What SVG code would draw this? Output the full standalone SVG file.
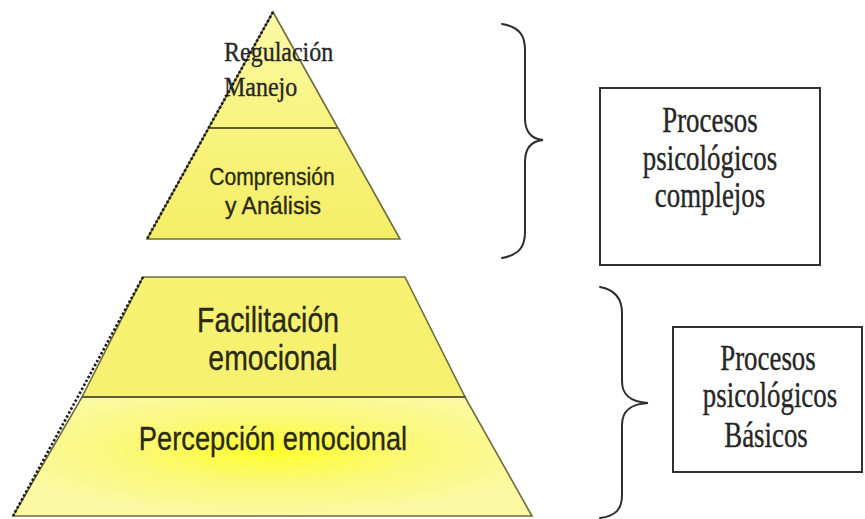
<svg xmlns="http://www.w3.org/2000/svg" width="865" height="519" viewBox="0 0 865 519">
  <defs>
    <linearGradient id="gTop" x1="0" y1="0" x2="0" y2="1">
      <stop offset="0" stop-color="#fbfaa8"/>
      <stop offset="0.45" stop-color="#f8f482"/>
      <stop offset="1" stop-color="#f4ee66"/>
    </linearGradient>
    <radialGradient id="gBase" cx="0.5" cy="0.45" r="0.55">
      <stop offset="0" stop-color="#ffff2a"/>
      <stop offset="0.5" stop-color="#fbf878"/>
      <stop offset="1" stop-color="#fbf9a4"/>
    </radialGradient>
    <style>
      .band { stroke: #6e6c3c; stroke-width: 1.6; stroke-linejoin: miter; }
      .div { stroke: #5f5d34; stroke-width: 2; fill: none; }
      .dash { stroke: #1a1a1a; stroke-width: 2.6; stroke-dasharray: 2.5 2; fill: none; }
      .sans { font-family: "Liberation Sans", Arial, sans-serif; fill: #2a2a12; stroke: #2a2a12; stroke-width: 0.3; }
      .serif { font-family: "Liberation Serif", "Times New Roman", serif; fill: #262626; stroke: #262626; stroke-width: 0.3; }
      .brace { stroke: #2e2e2e; stroke-width: 2; fill: none; stroke-linecap: round; }
      .box { fill: #ffffff; stroke: #303030; stroke-width: 2; }
    </style>
  </defs>

  <rect width="865" height="519" fill="#ffffff"/>

  <!-- upper pyramid: triangle -->
  <g id="top-pyramid">
    <polygon class="band" points="273,12 400,239 147,239" fill="url(#gTop)"/>
    <line class="div" x1="210" y1="128" x2="337" y2="128"/>
  </g>
  <g id="regulacion">
    <text class="serif" transform="translate(224,61) scale(1,1.1)" font-size="24">Regulación</text>
    <text class="serif" transform="translate(224,96) scale(1,1.1)" font-size="24">Manejo</text>
  </g>
  <g id="comprension">
    <text class="sans" transform="translate(272,185) scale(0.96,1.1)" font-size="22" text-anchor="middle">Comprensión</text>
    <text class="sans" transform="translate(273,214) scale(1.05,1.1)" font-size="22" text-anchor="middle">y Análisis</text>
  </g>
  <line class="dash" x1="273" y1="12" x2="147" y2="239"/>

  <!-- lower pyramid: trapezoid in two bands -->
  <g id="base-pyramid">
    <polygon class="band" points="143,277 405,277 465,397 82,397" fill="#f6f170"/>
    <polygon class="band" points="82,397 465,397 532,516 13,516" fill="url(#gBase)"/>
    <line class="div" x1="82" y1="397" x2="466" y2="397"/>
    <line class="dash" x1="143" y1="277" x2="13" y2="516"/>
  </g>
  <g id="facilitacion">
    <text class="sans" transform="translate(268,332) scale(0.86,1.05)" font-size="33" text-anchor="middle">Facilitación</text>
    <text class="sans" transform="translate(273,370) scale(0.86,1.05)" font-size="33" text-anchor="middle">emocional</text>
  </g>
  <g id="percepcion">
    <text class="sans" transform="translate(273,450) scale(0.88,1.07)" font-size="31" text-anchor="middle">Percepción emocional</text>
  </g>

  <!-- braces grouping the levels -->
  <g id="connectors">
    <path class="brace" d="M502,24 C520,27 525,36 525,50 L525,118 C525,132 532,139 543,140 C532,141 525,148 525,162 L525,232 C525,248 518,255 502,258"/>
    <path class="brace" d="M600,287 C616,290 622,299 622,313 L622,381 C622,395 630,402 648,403 C630,404 622,411 622,425 L622,495 C622,510 615,516 600,518"/>
  </g>

  <!-- labels -->
  <g id="complejos">
    <rect class="box" x="600" y="88" width="220" height="177"/>
    <text class="serif" transform="translate(710,132) scale(0.96,1.3)" font-size="28" text-anchor="middle">Procesos</text>
    <text class="serif" transform="translate(710,170) scale(0.96,1.3)" font-size="28" text-anchor="middle">psicológicos</text>
    <text class="serif" transform="translate(710,207) scale(0.96,1.3)" font-size="28" text-anchor="middle">complejos</text>
  </g>
  <g id="basicos">
    <rect class="box" x="673" y="327" width="189" height="145"/>
    <text class="serif" transform="translate(768,370) scale(0.96,1.3)" font-size="28" text-anchor="middle">Procesos</text>
    <text class="serif" transform="translate(770,407) scale(0.96,1.3)" font-size="28" text-anchor="middle">psicológicos</text>
    <text class="serif" transform="translate(766,447) scale(0.96,1.3)" font-size="28" text-anchor="middle">Básicos</text>
  </g>
</svg>
